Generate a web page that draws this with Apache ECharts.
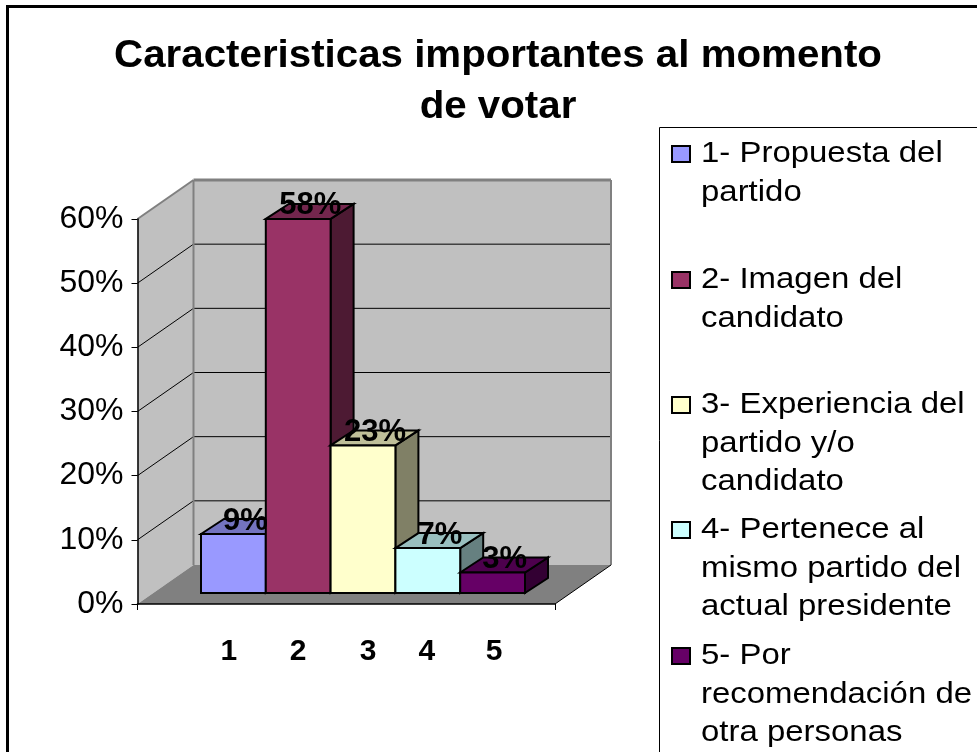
<!DOCTYPE html>
<html>
<head>
<meta charset="utf-8">
<style>
  html, body { margin: 0; padding: 0; background: #fff; }
  #chart { width: 977px; height: 752px; }
</style>
<script src="https://cdn.jsdelivr.net/npm/echarts@6/dist/echarts.min.js"></script>
</head>
<body>
<div id="chart"></div>
<script>
var titleLines = ['Caracteristicas importantes al momento', 'de votar'];
var categories = ['1', '2', '3', '4', '5'];
var values = [0.092, 0.583, 0.23, 0.07, 0.032];
var colors = ['#9999ff', '#993366', '#ffffcc', '#ccffff', '#660066'];
var tickValues = [0, 0.1, 0.2, 0.3, 0.4, 0.5, 0.6];
var legendLines = [
    ['1- Propuesta del', 'partido'],
    ['2- Imagen del', 'candidato'],
    ['3- Experiencia del', 'partido y/o', 'candidato'],
    ['4- Pertenece al', 'mismo partido del', 'actual presidente'],
    ['5- Por', 'recomendación de', 'otra personas']
];
var legendRows = [152, 278, 403, 528, 654];

var font = '"Liberation Sans", Arial, sans-serif';
var wallDx = 56, wallDy = -39;   // profundidad de las paredes
var barDx = 23, barDy = -15;     // profundidad de las barras

function shade(hex, k) {
    var n = parseInt(hex.slice(1), 16);
    var r = Math.round((n >> 16 & 255) * k);
    var g = Math.round((n >> 8 & 255) * k);
    var b = Math.round((n & 255) * k);
    return 'rgb(' + r + ',' + g + ',' + b + ')';
}

function poly(points, fill, stroke, width) {
    return {
        type: 'polygon',
        shape: { points: points },
        style: { fill: fill, stroke: stroke, lineWidth: width, lineJoin: 'miter' }
    };
}

function line(a, b, color, width) {
    return {
        type: 'line',
        shape: { x1: a[0], y1: a[1], x2: b[0], y2: b[1] },
        style: { stroke: color, lineWidth: width }
    };
}

// paredes, piso y lineas de division
function renderWalls(params, api) {
    var a = api.coord([0, 0]);
    var b = api.coord([1, 0]);
    var c = api.coord([0, 0.6]);
    var children = [
        poly([[a[0], a[1]], [c[0], c[1]], [c[0] + wallDx, c[1] + wallDy], [a[0] + wallDx, a[1] + wallDy]], '#c0c0c0', null, 0),
        poly([[a[0] + wallDx, a[1] + wallDy], [c[0] + wallDx, c[1] + wallDy], [b[0] + wallDx, c[1] + wallDy], [b[0] + wallDx, a[1] + wallDy]], '#c0c0c0', null, 0)
    ];
    tickValues.forEach(function (v) {
        var p = api.coord([0, v]);
        if (v > 0 && v < 0.6) {
            children.push(line(p, [p[0] + wallDx, p[1] + wallDy], '#000', 1));
            children.push(line([p[0] + wallDx, p[1] + wallDy], [b[0] + wallDx, p[1] + wallDy], '#000', 1));
        }
    });
    children.push(poly([[a[0], a[1]], [b[0], b[1]], [b[0] + wallDx, b[1] + wallDy], [a[0] + wallDx, a[1] + wallDy]], '#808080', null, 0));
    // marco gris
    children.push(line(c, [c[0] + wallDx, c[1] + wallDy], '#808080', 2));
    children.push(line([c[0] + wallDx, c[1] + wallDy], [b[0] + wallDx, c[1] + wallDy], '#808080', 3));
    children.push(line([c[0] + wallDx, c[1] + wallDy], [a[0] + wallDx, a[1] + wallDy], '#808080', 2));
    children.push(line([b[0] + wallDx, c[1] + wallDy], [b[0] + wallDx, a[1] + wallDy], '#808080', 2));
    children.push(line(b, [b[0] + wallDx, b[1] + wallDy], '#000', 1));
    return { type: 'group', children: children };
}

function renderBar(params, api) {
    var i = api.value(0);
    var top = api.coord([i, api.value(1)]);
    var base = api.coord([i, 0]);
    var w = api.size([1, 0])[0];
    var l = top[0] - w / 2, r = top[0] + w / 2;
    var color = colors[i];
    return {
        type: 'group',
        children: [
            poly([[r, top[1]], [r + barDx, top[1] + barDy], [r + barDx, base[1] + barDy], [r, base[1]]], shade(color, 0.5), '#000', 2),
            poly([[l, top[1]], [l + barDx, top[1] + barDy], [r + barDx, top[1] + barDy], [r, top[1]]], shade(color, 0.75), '#000', 2),
            poly([[l, top[1]], [r, top[1]], [r, base[1]], [l, base[1]]], color, '#000', 2)
        ]
    };
}

function renderValue(params, api) {
    var top = api.coord([api.value(0), api.value(1)]);
    return {
        type: 'text',
        style: {
            text: Math.round(api.value(1) * 100) + '%',
            x: top[0] + 12,
            y: top[1] - 13,
            align: 'center',
            verticalAlign: 'middle',
            fill: '#000',
            font: 'bold 31px ' + font
        }
    };
}

// marco y leyenda
var graphic = [
    { type: 'rect', shape: { x: 7.5, y: 6.5, width: 1000, height: 800 }, style: { fill: 'none', stroke: '#000', lineWidth: 3 }, silent: true },
    { type: 'rect', shape: { x: 659.5, y: 127.5, width: 340, height: 660 }, style: { fill: '#fff', stroke: '#000', lineWidth: 1 }, silent: true }
];
legendLines.forEach(function (lines, i) {
    graphic.push({
        type: 'rect',
        shape: { x: 672, y: legendRows[i] - 6, width: 18, height: 16 },
        style: { fill: colors[i], stroke: '#000', lineWidth: 2 }
    });
    lines.forEach(function (text, j) {
        graphic.push({
            type: 'text',
            x: 701,
            y: legendRows[i] + 2 + j * 38.3,
            scaleX: 1.098,
            style: { text: text, x: 0, y: 0, verticalAlign: 'middle', fill: '#000', font: '30px ' + font }
        });
    });
});
titleLines.forEach(function (text, i) {
    graphic.push({
        type: 'text',
        x: 498,
        y: 57 + i * 51,
        scaleX: 1.06,
        style: { text: text, x: 0, y: 0, align: 'center', verticalAlign: 'middle', fill: '#000', font: 'bold 38px ' + font }
    });
});

var chart = echarts.init(document.getElementById('chart'));
chart.setOption({
    animation: false,
    backgroundColor: '#fff',
    graphic: graphic,
    grid: [
        // plano frontal del eje
        { left: 137.5, right: 422, top: 219, bottom: 148 },
        // plano de las barras
        { left: 201, right: 452, top: 208, bottom: 159 }
    ],
    xAxis: [
        {
            gridIndex: 0, type: 'value', min: 0, max: 1, interval: 1, z: 10,
            axisLine: { lineStyle: { color: '#000', width: 1.5 } },
            axisTick: { length: 6, lineStyle: { color: '#000' } },
            axisLabel: { show: false },
            splitLine: { show: false }
        },
        {
            gridIndex: 1, type: 'category', data: categories, z: 10,
            axisLine: { show: false },
            axisTick: { show: false },
            axisLabel: {
                interval: 0,
                margin: 44,
                color: '#000',
                fontFamily: font,
                fontWeight: 'bold',
                fontSize: 30,
                // los rotulos no quedan centrados bajo cada barra
                formatter: function (v, i) { return '{n' + i + '|' + v + '}'; },
                rich: {
                    n0: { fontFamily: font, fontWeight: 'bold', fontSize: 30, color: '#000', padding: [0, 9, 0, 0] },
                    n1: { fontFamily: font, fontWeight: 'bold', fontSize: 30, color: '#000' },
                    n2: { fontFamily: font, fontWeight: 'bold', fontSize: 30, color: '#000', padding: [0, 0, 0, 10] },
                    n3: { fontFamily: font, fontWeight: 'bold', fontSize: 30, color: '#000', padding: [0, 2, 0, 0] },
                    n4: { fontFamily: font, fontWeight: 'bold', fontSize: 30, color: '#000', padding: [0, 0, 0, 3] }
                }
            }
        }
    ],
    yAxis: [
        {
            gridIndex: 0, type: 'value', min: 0, max: 0.6, interval: 0.1, z: 10,
            axisLine: { show: true, lineStyle: { color: '#000', width: 1.5 } },
            axisTick: { show: true, length: 6, lineStyle: { color: '#000' } },
            axisLabel: {
                margin: 14,
                padding: [4, 0, 0, 0],
                color: '#000',
                fontFamily: font,
                fontSize: 32,
                formatter: function (v) { return Math.round(v * 100) + '%'; }
            },
            splitLine: { show: false }
        },
        { gridIndex: 1, type: 'value', min: 0, max: 0.6, interval: 0.1, show: false }
    ],
    series: [
        {
            type: 'custom', xAxisIndex: 0, yAxisIndex: 0, z: 1,
            renderItem: renderWalls, data: [[0, 0]], silent: true
        },
        {
            type: 'custom', xAxisIndex: 1, yAxisIndex: 1, z: 3,
            renderItem: renderBar,
            data: values.map(function (v, i) { return [i, v]; })
        },
        {
            type: 'custom', xAxisIndex: 1, yAxisIndex: 1, z: 4,
            renderItem: renderValue,
            data: values.map(function (v, i) { return [i, v]; })
        }
    ]
});
</script>
</body>
</html>
